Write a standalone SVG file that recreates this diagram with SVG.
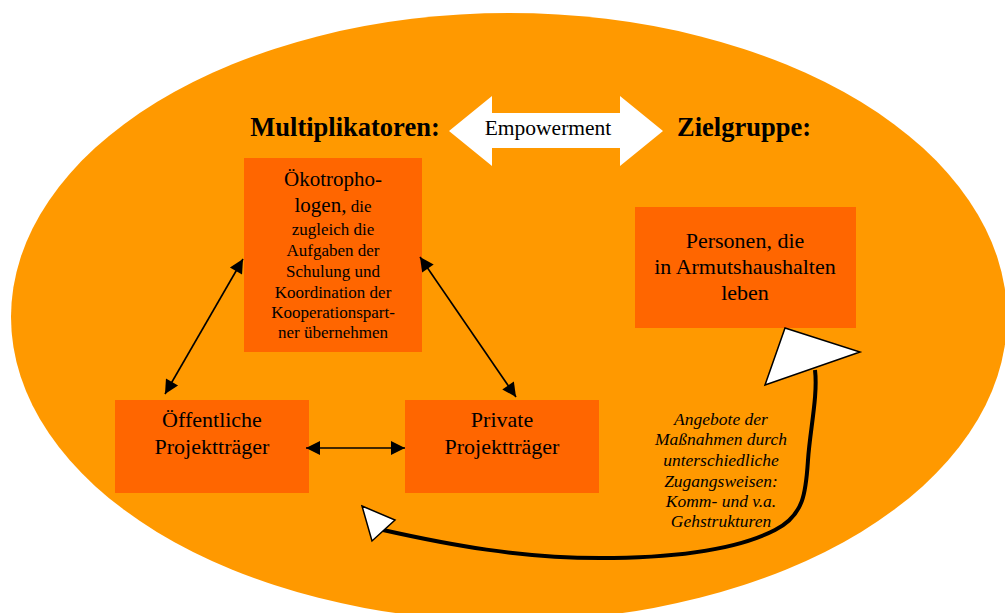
<svg xmlns="http://www.w3.org/2000/svg" width="1005" height="613" viewBox="0 0 1005 613">
<defs>
<style>
.box{fill:#FF6600}
.t{font-family:'Liberation Serif','DejaVu Serif',serif;fill:#000;text-anchor:middle}
.big{font-size:21px}
.sm{font-size:17px}
.n22{font-size:22px}
.hd{font-size:26.5px;font-weight:bold}
.it{font-size:17.5px;font-style:italic}
.con{stroke:#000;stroke-width:1.6;fill:none}
</style>
<marker id="ah" viewBox="0 0 10 10" refX="10" refY="5" markerWidth="16" markerHeight="14" markerUnits="userSpaceOnUse" orient="auto-start-reverse">
<path d="M0,0 L10,5 L0,10 z" fill="#000"/>
</marker>
</defs>
<rect width="1005" height="613" fill="#fff"/>
<ellipse cx="509" cy="317" rx="498" ry="304" fill="#FF9900"/>

<g id="header">
<text class="t hd" x="345" y="136">Multiplikatoren:</text>
<text class="t hd" x="744" y="136">Zielgruppe:</text>
</g>
<g id="empowerment">
<polygon points="449,131 492,96 492,113 620,113 620,96 663,131 620,166 620,148 492,148 492,166" fill="#fff"/>
<text class="t" style="font-size:21.5px" x="548" y="135">Empowerment</text>
</g>

<g id="oekotrophologen">
<rect class="box" x="244" y="158" width="178" height="194"/>
<text class="t big" x="333" y="186">Ökotropho-</text>
<text class="t" x="333" y="212"><tspan class="big">logen,</tspan><tspan class="sm"> die</tspan></text>
<text class="t sm" x="333" y="235">zugleich die</text>
<text class="t sm" x="333" y="256">Aufgaben der</text>
<text class="t sm" x="333" y="277">Schulung und</text>
<text class="t sm" x="333" y="298">Koordination der</text>
<text class="t sm" x="333" y="318">Kooperationspart-</text>
<text class="t sm" x="333" y="338">ner übernehmen</text>
</g>

<g id="personen">
<rect class="box" x="635" y="207" width="221" height="121"/>
<text class="t n22" x="745" y="248">Personen, die</text>
<text class="t n22" x="745" y="274">in Armutshaushalten</text>
<text class="t n22" x="745" y="300">leben</text>
</g>

<g id="oeffentliche">
<rect class="box" x="115" y="400" width="194" height="93"/>
<text class="t n22" x="212" y="427">Öffentliche</text>
<text class="t n22" x="212" y="454">Projektträger</text>
</g>

<g id="private">
<rect class="box" x="405" y="400" width="194" height="93"/>
<text class="t n22" x="502" y="427">Private</text>
<text class="t n22" x="502" y="454">Projektträger</text>
</g>

<g id="connectors">
<line class="con" x1="243" y1="259" x2="165" y2="394" marker-start="url(#ah)" marker-end="url(#ah)"/>
<line class="con" x1="420" y1="257" x2="516" y2="397" marker-start="url(#ah)" marker-end="url(#ah)"/>
<line class="con" x1="306" y1="448" x2="405" y2="448" marker-start="url(#ah)" marker-end="url(#ah)"/>
<path d="M383,530 C450,545 520,558 600,558 C680,558 740,548 775,530 C805,515 806,490 808,460 C810,430 818,395 815,370" fill="none" stroke="#000" stroke-width="4"/>
<polygon points="362,506 395,520 372,541" fill="#fff" stroke="#000" stroke-width="1.5"/>
<polygon points="765,385 785,328 860,352" fill="#fff" stroke="#000" stroke-width="1.5"/>
</g>

<g id="label">
<text class="t it" x="721" y="425">Angebote der</text>
<text class="t it" x="721" y="445">Maßnahmen durch</text>
<text class="t it" x="721" y="466">unterschiedliche</text>
<text class="t it" x="721" y="487">Zugangsweisen:</text>
<text class="t it" x="721" y="507">Komm- und v.a.</text>
<text class="t it" x="721" y="527">Gehstrukturen</text>
</g>
</svg>
